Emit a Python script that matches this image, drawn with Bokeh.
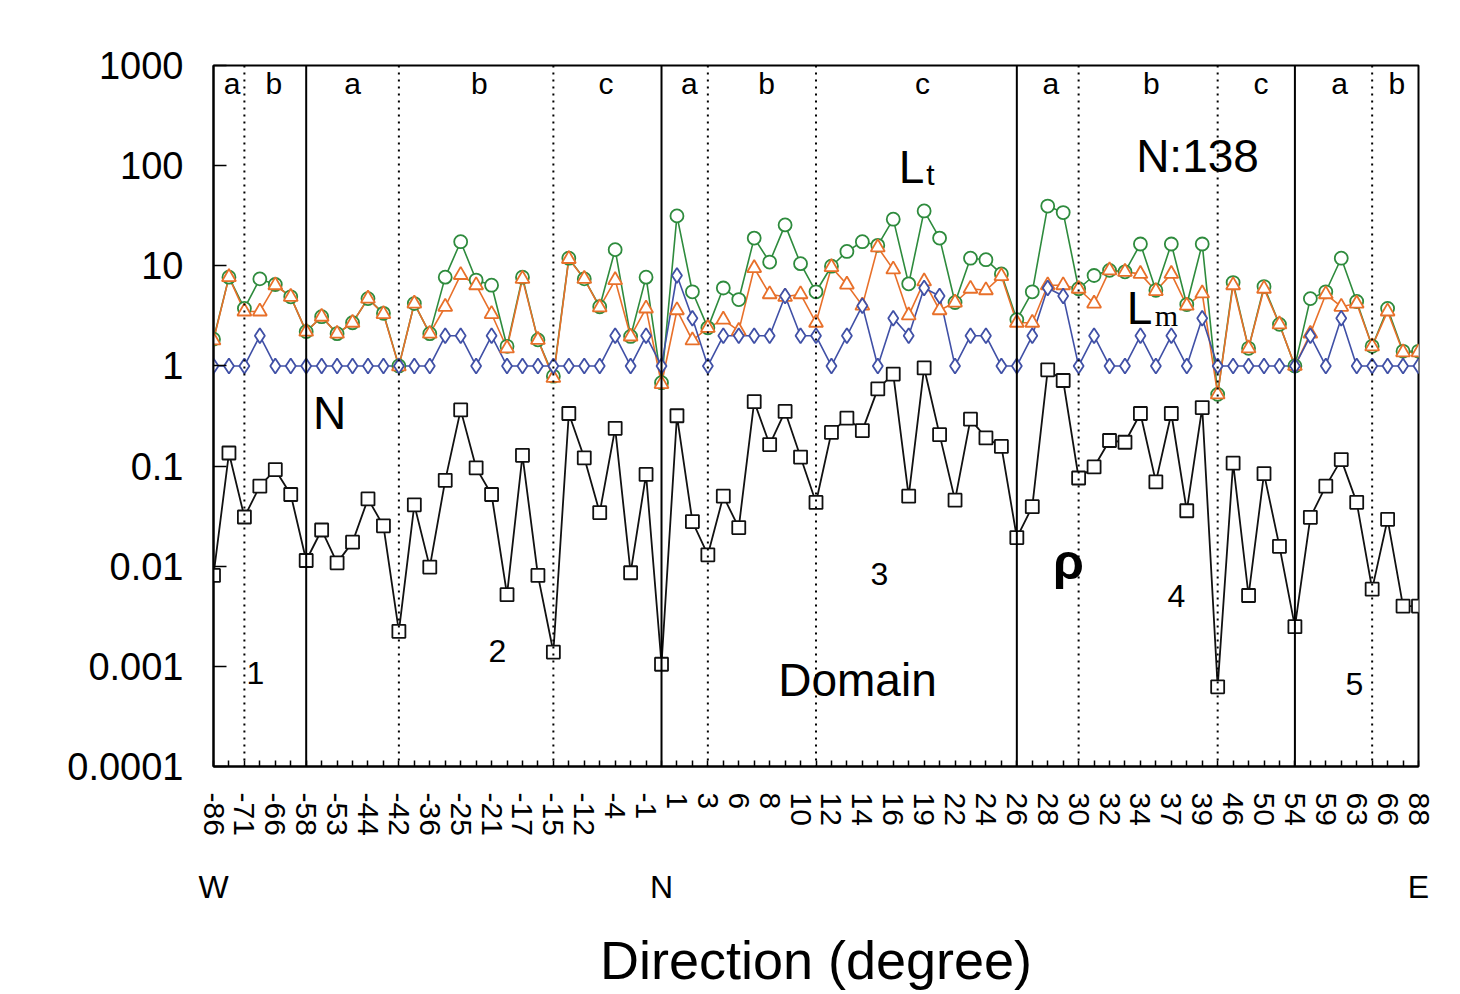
import math
from bokeh.plotting import figure
from bokeh.models import (ColumnDataSource, Range1d, FixedTicker, Span, Label, LinearAxis)
from bokeh.embed import file_html
from bokeh.resources import INLINE

# ---------------- data ----------------
directions = ["-86", "-71", "-66", "-58", "-53", "-44", "-42", "-36", "-25", "-21",
              "-17", "-15", "-12", "-4", "-1", "1", "3", "6", "8", "10",
              "12", "14", "16", "19", "22", "24", "26", "28", "30", "32",
              "34", "37", "39", "46", "50", "54", "59", "63", "66", "88"]

Lt = [1.85, 7.7, 3.75, 7.4, 6.5, 4.9, 2.2, 3.1, 2.1, 2.7,
      4.7, 3.35, 1.0, 4.2, 2.1, 7.7, 17.4, 7.2, 6.4, 1.57,
      7.7, 1.82, 0.79, 11.9, 7.4, 3.9, 14.5, 1.97, 7.7, 0.68,
      31.5, 5.5, 2.4, 6.0, 4.6, 18.9, 10.9, 25.6, 10.5, 5.5,
      9.9, 13.9, 17.4, 16.0, 29.2, 6.6, 35.3, 18.9, 4.3, 11.9,
      11.5, 8.3, 2.9, 5.5, 39.5, 34.0, 5.9, 8.0, 9.0, 8.7,
      16.5, 5.7, 16.5, 4.1, 16.5, 0.52, 6.8, 1.5, 6.2, 2.6,
      1.0, 4.7, 5.5, 11.9, 4.4, 1.57, 3.75, 1.4, 1.4]

Lm = [1.8, 7.7, 3.5, 3.5, 6.4, 4.9, 2.2, 3.1, 2.1, 2.7,
      4.7, 3.3, 0.99, 4.2, 2.1, 3.9, 8.1, 6.4, 3.3, 1.5,
      7.4, 1.82, 0.76, 11.7, 7.4, 3.85, 7.2, 1.97, 3.75, 0.66,
      3.6, 1.8, 2.4, 2.9, 2.24, 9.5, 5.2, 4.9, 5.2, 2.7,
      9.7, 6.5, 4.0, 15.3, 9.2, 3.2, 7.0, 3.6, 4.3, 5.9,
      5.7, 7.9, 2.7, 2.7, 6.4, 6.4, 5.9, 4.2, 9.0, 8.7,
      8.3, 5.6, 8.3, 4.0, 5.3, 0.52, 6.4, 1.5, 5.9, 2.6,
      1.0, 2.1, 5.2, 3.9, 4.2, 1.57, 3.5, 1.37, 1.37]

N = [1, 1, 1, 2, 1, 1, 1, 1, 1, 1,
     1, 1, 1, 1, 1, 2, 2, 1, 2, 1,
     1, 1, 1, 1, 1, 1, 2, 1, 2, 1,
     8, 3, 1, 2, 2, 2, 2, 5, 2, 2,
     1, 2, 4, 1, 3, 2, 6, 5, 1, 2,
     2, 1, 1, 2, 6, 5, 1, 2, 1, 1,
     2, 1, 2, 1, 3, 1, 1, 1, 1, 1,
     1, 2, 1, 3, 1, 1, 1, 1, 1]

rho = [0.0081, 0.135, 0.031, 0.063, 0.092, 0.052, 0.0114, 0.023, 0.0108, 0.0174,
       0.047, 0.0253, 0.00224, 0.041, 0.0098, 0.072, 0.364, 0.096, 0.052, 0.0052,
       0.128, 0.0081, 0.00139, 0.335, 0.121, 0.0343, 0.238, 0.0086, 0.0826, 0.00105,
       0.318, 0.0279, 0.013, 0.050, 0.0243, 0.44, 0.164, 0.351, 0.123, 0.0433,
       0.217, 0.301, 0.226, 0.59, 0.83, 0.050, 0.955, 0.206, 0.0457, 0.294,
       0.191, 0.157, 0.0193, 0.0393, 0.915, 0.715, 0.076, 0.098, 0.18, 0.173,
       0.335, 0.0695, 0.335, 0.0358, 0.384, 0.000624, 0.107, 0.0051, 0.084, 0.0158,
       0.00249, 0.0308, 0.063, 0.116, 0.0434, 0.0059, 0.0294, 0.0040, 0.0040]

domain_bounds = [6, 29, 52, 70]
sub_bounds = [2, 12, 22, 32, 39, 56, 65, 75]
sub_labels = ["a", "b", "a", "b", "c", "a", "b", "c", "a", "b", "c", "a", "b"]
sub_label_pos = [1.2, 3.9, 9.0, 17.2, 25.4, 30.8, 35.8, 45.9, 54.2, 60.7, 67.8, 72.9, 76.6]
domain_numbers = ["1", "2", "3", "4", "5"]
compass_pos = [0, 29, 78]
compass_labels = ["W", "N", "E"]
y_ticks = [1e-4, 1e-3, 1e-2, 1e-1, 1, 10, 100, 1000]
y_tick_labels = ["0.0001", "0.001", "0.01", "0.1", "1", "10", "100", "1000"]

GREEN = "#2e8b3d"
ORANGE = "#e8702a"
BLUE = "#4050a6"
BLACK = "#111111"
FONT = "Liberation Sans"

idx = list(range(len(rho)))
src = ColumnDataSource(dict(x=idx, lt=Lt, lm=Lm, n=N, rho=rho))

p = figure(width=1450, height=992, x_range=Range1d(0, 78), y_range=Range1d(1e-4, 1e3),
           y_axis_type="log", output_backend="svg", toolbar_location=None,
           min_border_left=213, min_border_right=32, min_border_top=65, min_border_bottom=219)
p.background_fill_color = "white"
p.border_fill_color = "white"
p.outline_line_color = "black"
p.outline_line_width = 2
p.xgrid.visible = False
p.ygrid.visible = False

# x axis (direction tick labels)
p.xaxis.ticker = FixedTicker(ticks=idx)
p.xaxis.major_label_overrides = {i: (directions[i // 2] if i % 2 == 0 else "") for i in idx}
p.xaxis.major_label_orientation = -math.pi / 2
p.xaxis.major_label_text_font = FONT
p.xaxis.major_label_text_font_size = "30px"
p.xaxis.major_label_text_color = "black"
p.xaxis.major_tick_in = 6
p.xaxis.major_tick_out = 0
p.xaxis.minor_tick_line_color = None
p.xaxis.major_label_standoff = 26
p.xaxis.axis_line_width = 2
p.xaxis.major_tick_line_width = 1.5

# second bottom axis: compass letters + axis title
ax2 = LinearAxis(ticker=FixedTicker(ticks=compass_pos),
                 major_label_overrides={v: s for v, s in zip(compass_pos, compass_labels)})
ax2.axis_line_color = None
ax2.major_tick_line_color = None
ax2.minor_tick_line_color = None
ax2.major_tick_in = 0
ax2.major_tick_out = 0
ax2.major_label_standoff = 30
ax2.major_label_text_font = FONT
ax2.major_label_text_font_size = "32px"
ax2.major_label_text_color = "black"
ax2.axis_label = "Direction (degree)"
ax2.axis_label_text_font = FONT
ax2.axis_label_text_font_size = "54px"
ax2.axis_label_text_font_style = "normal"
ax2.axis_label_text_color = "black"
ax2.axis_label_standoff = 22
p.add_layout(ax2, "below")

# y axis
p.yaxis.ticker = FixedTicker(ticks=y_ticks)
p.yaxis.major_label_overrides = {v: s for v, s in zip(y_ticks, y_tick_labels)}
p.yaxis.major_label_text_font = FONT
p.yaxis.major_label_text_font_size = "38px"
p.yaxis.major_label_text_color = "black"
p.yaxis.major_tick_in = 13
p.yaxis.major_tick_out = 0
p.yaxis.minor_tick_line_color = None
p.yaxis.major_label_standoff = 30
p.yaxis.axis_line_width = 2
p.yaxis.major_tick_line_width = 1.5

# lines
p.line("x", "lt", source=src, line_color=GREEN, line_width=1.6)
p.line("x", "lm", source=src, line_color=ORANGE, line_width=1.6)
p.line("x", "n", source=src, line_color=BLUE, line_width=1.6)
p.line("x", "rho", source=src, line_color=BLACK, line_width=1.8)

# markers
p.scatter("x", "lt", source=src, marker="circle", size=13, line_color=GREEN,
          fill_color="white", line_width=1.8)
p.scatter("x", "lm", source=src, marker="triangle", size=14, line_color=ORANGE,
          fill_color="white", line_width=1.8)
p.scatter("x", "n", source=src, marker="diamond", size=15, line_color=BLUE,
          fill_color="white", line_width=1.8)
p.scatter("x", "rho", source=src, marker="square", size=13, line_color=BLACK,
          fill_color="white", line_width=1.8)

# region boundaries
for b in domain_bounds:
    p.add_layout(Span(location=b, dimension="height", line_color="black", line_width=2))
for b in sub_bounds:
    p.add_layout(Span(location=b, dimension="height", line_color="black", line_width=2,
                      line_dash="2 5"))


# helpers to place annotation text by page pixel position
def xp(px):
    return (px - 213) * 78.0 / 1205.0


def yp(py):
    return 10 ** (3 - (py - 65) * 7.0 / 708.0)


def txt(s, px, py, size, font=FONT, align="center", baseline="middle", style="normal"):
    p.add_layout(Label(x=xp(px), y=yp(py), text=s, text_font=font, text_font_size=size,
                       text_align=align, text_baseline=baseline, text_color="black",
                       text_font_style=style))


for s, pos in zip(sub_labels, sub_label_pos):
    p.add_layout(Label(x=pos, y=yp(83), text=s, text_font=FONT, text_font_size="30px",
                       text_align="center", text_baseline="middle", text_color="black"))

txt("N:138", 1197, 156, "46px")
txt("L", 911, 168, "46px")
txt("t", 930, 175, "30px")
txt("L", 1139, 310, "46px")
txt("m", 1166, 317, "30px", font="Liberation Serif")
txt("N", 329, 416, "46px")
txt("ρ", 1068, 566, "50px", baseline="alphabetic", style="bold")
for s, (px, py) in zip(domain_numbers, [(255, 679), (497, 656), (879, 579), (1176, 601), (1354, 690)]):
    txt(s, px, py, "32px")
txt("Domain", 857, 686, "46px")

open("out.html", "w").write(file_html(p, INLINE))
